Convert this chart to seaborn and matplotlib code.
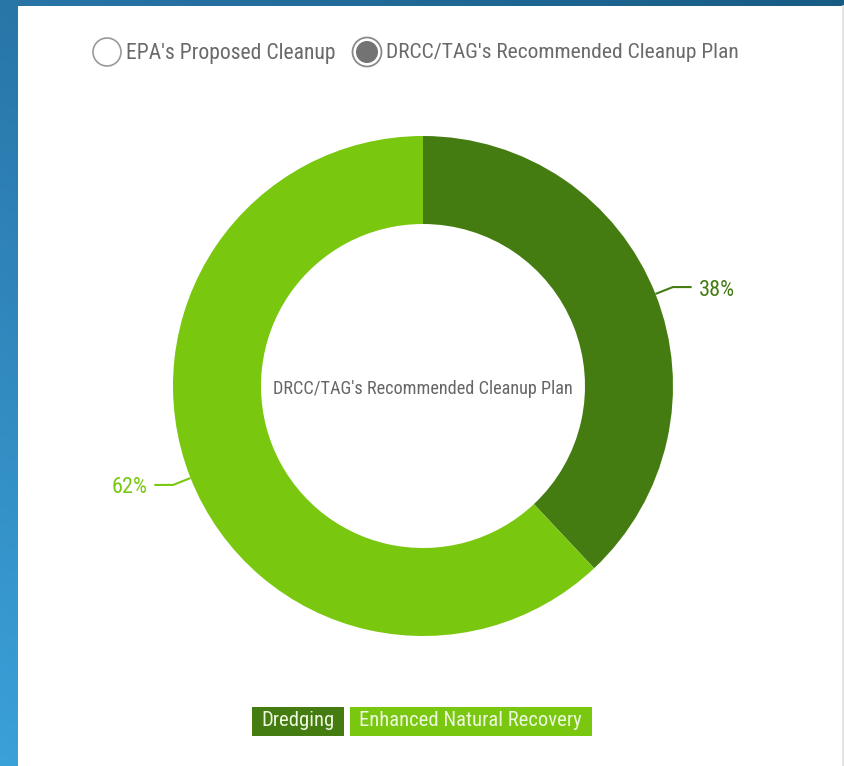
import numpy as np
import matplotlib
matplotlib.use("Agg")
import matplotlib.pyplot as plt
from matplotlib.patches import Rectangle, Circle
from matplotlib import font_manager as fm
import seaborn as sns

sns.set_theme(style="white")
plt.rcParams['font.family'] = ['DejaVu Sans']

# ---- data ----
categories = ["Dredging", "Enhanced Natural Recovery"]
values = [38, 62]
colors = ["#457c12", "#79c70e"]
center_title = "DRCC/TAG's Recommended Cleanup Plan"
toggle_labels = ["EPA's Proposed Cleanup", "DRCC/TAG's Recommended Cleanup Plan"]
selected_toggle = 1

# pick a condensed / narrow font if one is installed
def _is_narrow(f):
    s = f.stretch
    if isinstance(s, str):
        narrow = s in ("ultra-condensed", "extra-condensed", "condensed", "semi-condensed")
    else:
        narrow = s < 500
    return narrow or "Narrow" in f.name or "Condensed" in f.name

cands = [f for f in fm.fontManager.ttflist
         if _is_narrow(f) and f.style == "normal"
         and (f.weight in (400, "normal", "regular", "book"))]
pref = ["Liberation Sans Narrow", "Roboto Condensed", "Open Sans Condensed",
        "Noto Sans", "DejaVu Sans"]
chosen = None
for p in pref:
    for f in cands:
        if f.name.startswith(p):
            chosen = f
            break
    if chosen:
        break
if chosen is None and cands:
    chosen = cands[0]
FP = fm.FontProperties(fname=chosen.fname) if chosen else fm.FontProperties(family="DejaVu Sans")

W, H = 844, 766
fig = plt.figure(figsize=(W / 100, H / 100), dpi=100)
renderer = fig.canvas.get_renderer()

def fit_text(axh, x, y, s, target_w, max_size=40, **kw):
    t = axh.text(x, y, s, fontproperties=FP.copy(), **kw)
    t.set_fontsize(max_size)
    w = t.get_window_extent(renderer).width
    if w > target_w:
        t.set_fontsize(max_size * target_w / w)
    return t

# background gradient frame
bg = fig.add_axes([0, 0, 1, 1])
bg.set_axis_off()
ys = np.linspace(0, 1, 200)[:, None]
xs = np.linspace(0, 1, 200)[None, :]
r = 0.16 + 0.07 * ys - 0.07 * xs
g = 0.46 + 0.17 * ys - 0.10 * xs
b = 0.66 + 0.19 * ys - 0.14 * xs
img = np.clip(np.dstack([r + 0 * xs, g + 0 * xs, b + 0 * xs]), 0, 1)
bg.imshow(img, extent=[0, W, H, 0], aspect='auto')
bg.add_patch(Rectangle((18, 6), W - 19, H - 6, facecolor="white", edgecolor="none"))
bg.plot([W - 1.5, W - 1.5], [6, H], color="#e4e4e4", lw=1.5)
bg.set_xlim(0, W)
bg.set_ylim(H, 0)

# top toggle legend (pixel coords)
bg.add_patch(Circle((107, 52), 14, facecolor="white", edgecolor="#9a9a9a", lw=1.2))
fit_text(bg, 126, 53, toggle_labels[0], 210, color="#6a6a6a", va="center", ha="left")
bg.add_patch(Circle((367, 52), 14.5, facecolor="white", edgecolor="#8a8a8a", lw=1.3))
bg.add_patch(Circle((367, 52), 11, facecolor="#737373", edgecolor="none"))
fit_text(bg, 386, 53, toggle_labels[1], 353, color="#6a6a6a", va="center", ha="left")

# donut
cx, cy, R = 423, 386, 250
ax = fig.add_axes([(cx - R) / W, (H - cy - R) / H, 2 * R / W, 2 * R / H])
wedges, _ = ax.pie(values, colors=colors, startangle=90, counterclock=False,
                   radius=1.0, wedgeprops=dict(width=0.352, edgecolor="none"))
ax.set_xlim(-1, 1)
ax.set_ylim(-1, 1)
ax.set_aspect("equal")
ax.set_axis_off()

fit_text(ax, 0, -0.01, center_title, 300, ha="center", va="center", color="#666666")

total = float(sum(values))
cum = 0.0
for v, col in zip(values, colors):
    mid = 90 - 360 * (cum + v / 2) / total
    cum += v
    t = np.deg2rad(mid)
    x0, y0 = np.cos(t), np.sin(t)
    x1, y1 = 1.075 * np.cos(t), 1.075 * np.sin(t)
    sgn = 1 if x0 > 0 else -1
    x2 = x1 + sgn * 0.075
    ax.plot([x0, x1, x2], [y0, y1, y1], color=col, lw=1.5, clip_on=False,
            solid_capstyle="butt")
    fit_text(ax, x2 + sgn * 0.028, y1 - 0.012, f"{v}%", 36, color=col,
             ha="left" if sgn > 0 else "right", va="center")

# bottom legend boxes
leg_t = bg.text(0, 0, categories[-1], fontproperties=FP.copy())
leg_t.set_fontsize(40)
leg_size = 40 * 222 / leg_t.get_window_extent(renderer).width
leg_t.remove()
bx = 252
for name, col in zip(categories, colors):
    t = bg.text(bx + 9.5, 721, name, fontproperties=FP.copy(), color="#eef8df",
                va="center", ha="left", zorder=3)
    t.set_fontsize(leg_size)
    wpx = t.get_window_extent(renderer).width
    bg.add_patch(Rectangle((bx, 706.5), wpx + 19, 29, facecolor=col, edgecolor="none", zorder=1))
    bx = bx + wpx + 19 + 5.5

fig.savefig("out.png", dpi=100)
